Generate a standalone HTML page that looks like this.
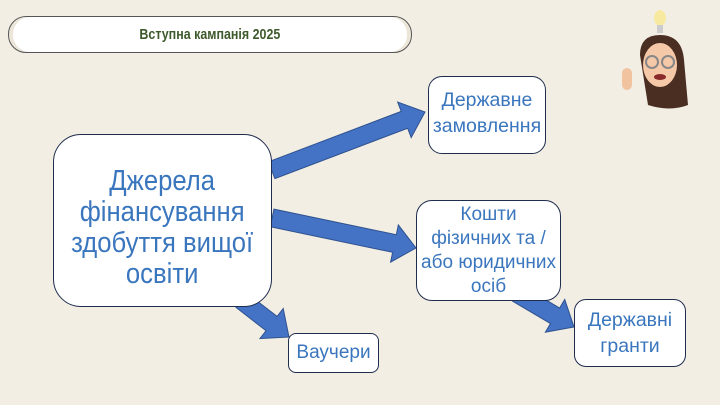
<!DOCTYPE html>
<html><head><meta charset="utf-8"><style>
body{margin:0;width:720px;height:405px;background:#f2eee4;position:relative;overflow:hidden;font-family:"Liberation Sans",sans-serif}
.t{position:absolute;left:8px;top:16px;width:402px;height:35px;border:1px solid #555;border-radius:18px;background:#fff;box-shadow:inset 4px 0 0 #ece6d8,inset -4px 0 0 #ece6d8;text-align:center;line-height:35px;font-weight:bold;font-size:15px;color:#3e5a2c}
.t span{display:inline-block;transform:scaleX(0.83)}
.b{position:absolute;background:#fff;border:1px solid #1f2d4d;display:flex;align-items:center;justify-content:center;text-align:center;color:#3a76bd;box-sizing:border-box;white-space:nowrap}
</style></head><body>
<div class="t"><span>Вступна кампанія 2025</span></div>
<svg width="720" height="405" style="position:absolute;left:0;top:0">
<g transform="translate(425,112) rotate(-20.8)"><polygon points="-164,-9 -22,-9 -22,-19 0,0 -22,19 -22,9 -164,9" fill="#4472c4" stroke="#2f528f"/></g>
<g transform="translate(416,248) rotate(11.8)"><polygon points="-147,-9 -22,-9 -22,-19 0,0 -22,19 -22,9 -147,9" fill="#4472c4" stroke="#2f528f"/></g>
<g transform="translate(289,337) rotate(37.7)"><polygon points="-60,-9 -22,-9 -22,-19 0,0 -22,19 -22,9 -60,9" fill="#4472c4" stroke="#2f528f"/></g>
<g transform="translate(574,327) rotate(30.6)"><polygon points="-66,-9 -22,-9 -22,-19 0,0 -22,19 -22,9 -66,9" fill="#4472c4" stroke="#2f528f"/></g>
<ellipse cx="660" cy="18" rx="6" ry="8" fill="#f7e9a0"/>
<rect x="657" y="25" width="6" height="8" fill="#ccc"/>
<path d="M640 55 Q640 35 660 35 Q682 35 684 60 L688 105 Q670 112 648 105 Z" fill="#4a2e22"/>
<ellipse cx="660" cy="65" rx="17" ry="22" fill="#f5c8a8"/>
<circle cx="652" cy="62" r="6" fill="none" stroke="#888" stroke-width="2"/>
<circle cx="668" cy="62" r="6" fill="none" stroke="#888" stroke-width="2"/>
<ellipse cx="660" cy="77" rx="6" ry="3" fill="#8a2a2a"/>
<rect x="622" y="68" width="10" height="22" rx="5" fill="#f1c39e"/>
</svg>
<div class="b" style="left:53px;top:134px;width:219px;height:173px;border-radius:28px;font-size:28.5px;line-height:31px;padding-top:14px"><span style="display:inline-block;transform:scaleX(0.9)">Джерела<br>фінансування<br>здобуття вищої<br>освіти</span></div>
<div class="b" style="left:428px;top:76px;width:118px;height:78px;border-radius:14px;font-size:19.5px;line-height:26px;align-items:flex-start;padding-top:10px">Державне<br>замовлення</div>
<div class="b" style="left:416px;top:200px;width:145px;height:101px;border-radius:16px;font-size:19px;line-height:24px">Кошти<br>фізичних та /<br>або юридичних<br>осіб</div>
<div class="b" style="left:288px;top:333px;width:91px;height:40px;border-radius:8px;font-size:19px">Ваучери</div>
<div class="b" style="left:574px;top:299px;width:112px;height:68px;border-radius:12px;font-size:19.5px;line-height:26px">Державні<br>гранти</div>
</body></html>
